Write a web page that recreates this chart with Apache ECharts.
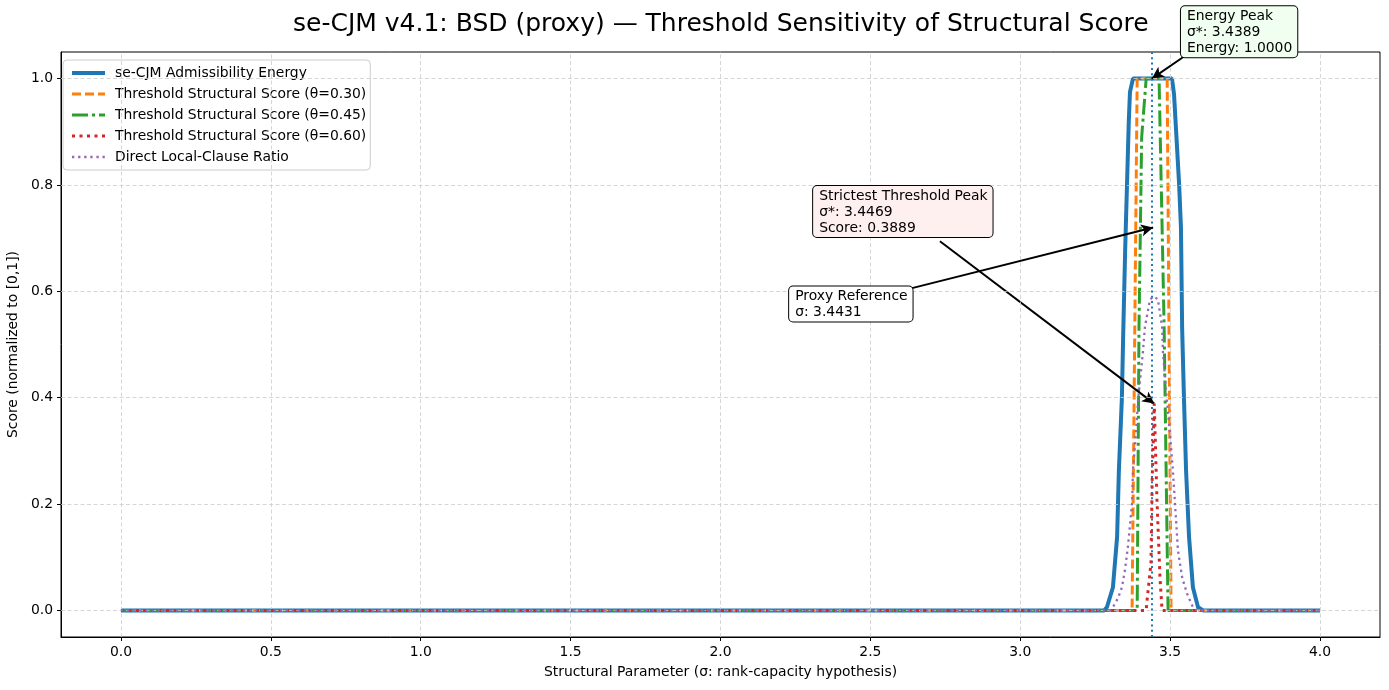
<!DOCTYPE html>
<html>
<head>
<meta charset="utf-8">
<script src="https://cdn.jsdelivr.net/npm/echarts@6/dist/echarts.min.js"></script>
<style>
html,body{margin:0;padding:0;background:#fff;}
#chart{width:1389px;height:690px;}
</style>
</head>
<body>
<div id="chart"></div>
<script>
// ---- data ----
const energySigma = [0.0, 3.280, 3.289, 3.309, 3.323, 3.329, 3.339, 3.343, 3.350, 3.356, 3.362, 3.366, 3.376, 3.506, 3.513, 3.520, 3.530, 3.536, 3.540, 3.546, 3.553, 3.563, 3.576, 3.593, 3.610, 4.0];
const energyScore = [0, 0, 0.006, 0.043, 0.138, 0.264, 0.40, 0.51, 0.68, 0.80, 0.92, 0.975, 1.0, 1.0, 0.97, 0.90, 0.80, 0.72, 0.53, 0.40, 0.264, 0.138, 0.043, 0.006, 0, 0];

const th30Sigma = [0.0, 3.373, 3.390, 3.490, 3.503, 4.0];
const th30Score = [0, 0, 1.0, 1.0, 0, 0];

const th45Sigma = [0.0, 3.390, 3.396, 3.405, 3.420, 3.463, 3.480, 3.493, 4.0];
const th45Score = [0, 0, 0.53, 0.89, 1.0, 1.0, 0.53, 0, 0];

const th60Sigma = [0.0, 3.420, 3.423, 3.436, 3.440, 3.4469, 3.456, 3.466, 3.473, 4.0];
const th60Score = [0, 0, 0.019, 0.089, 0.245, 0.3889, 0.208, 0.062, 0, 0];

const ratioSigma = [0.0, 3.300, 3.309, 3.326, 3.339, 3.349, 3.359, 3.373, 3.376, 3.386, 3.393, 3.409, 3.416, 3.433, 3.446, 3.459, 3.473, 3.476, 3.489, 3.499, 3.509, 3.516, 3.526, 3.540, 3.556, 3.576, 3.590, 4.0];
const ratioScore = [0, 0, 0.006, 0.023, 0.043, 0.075, 0.119, 0.202, 0.264, 0.334, 0.396, 0.485, 0.534, 0.585, 0.59, 0.585, 0.534, 0.485, 0.396, 0.334, 0.264, 0.202, 0.113, 0.062, 0.032, 0.006, 0, 0];

const seriesNames = ['se-CJM Admissibility Energy', 'Threshold Structural Score (θ=0.30)', 'Threshold Structural Score (θ=0.45)', 'Threshold Structural Score (θ=0.60)', 'Direct Local-Clause Ratio'];
const proxySigma = 3.4431;
const xTicks = [0, 0.5, 1.0, 1.5, 2.0, 2.5, 3.0, 3.5, 4.0];
const yTicks = [0, 0.2, 0.4, 0.6, 0.8, 1.0];

const titleText = 'se-CJM v4.1: BSD (proxy) — Threshold Sensitivity of Structural Score';
const xName = 'Structural Parameter (σ: rank-capacity hypothesis)';
const yName = 'Score (normalized to [0,1])';

// annotation texts and their target points (data space)
const annTexts = ['Energy Peak\nσ*: 3.4389\nEnergy: 1.0000', 'Strictest Threshold Peak\nσ*: 3.4469\nScore: 0.3889', 'Proxy Reference\nσ: 3.4431'];
const annTargets = [[3.4389, 1.0], [3.4469, 0.3889], [3.4431, 0.72]];
// layout (positions in data space), kept separate
const annBoxAt = [[3.536, 1.136], [2.309, 0.798], [2.229, 0.609]];
const annArrowFrom = [[3.550, 1.043], [2.732, 0.694], [2.639, 0.606]];
const annBg = ['#f0fff0', '#fff0f0', '#ffffff'];

const zip = (a, b) => a.map((v, i) => [v, b[i]]);
const FONT = 'DejaVu Sans';
const FS = 13.9;

const chart = echarts.init(document.getElementById('chart'), null, {renderer: 'canvas'});

const arrowLines = annTargets.map((t, i) => [
  {coord: annArrowFrom[i], symbol: 'none'},
  {coord: t, symbol: 'arrow', symbolSize: [9, 12], lineStyle: {color: '#000', width: 2, type: 'solid'}}
]);

const styles = [
  {color: '#1f77b4', width: 4, type: 'solid'},
  {color: '#ff7f0e', width: 3, type: [9, 4]},
  {color: '#2ca02c', width: 3, type: [16, 4, 3, 4]},
  {color: '#d62728', width: 3, type: [3, 4.5]},
  {color: '#9467bd', width: 2.3, type: [2.3, 3.8]}
];

function lineSeries(idx, sig, sc, z) {
  const s = styles[idx];
  return {
    name: seriesNames[idx], type: 'line', data: zip(sig, sc), showSymbol: false, symbol: 'none', z: z,
    lineStyle: {color: s.color, width: s.width, type: s.type, cap: 'butt'}, itemStyle: {color: s.color, opacity: 0}
  };
}

const s4 = lineSeries(4, ratioSigma, ratioScore, 6);
s4.markLine = {
  silent: true, animation: false, symbol: ['none', 'none'], label: {show: false},
  data: [
    {xAxis: proxySigma, lineStyle: {color: '#1f77b4', width: 2, type: [2, 3.3]}}
  ].concat(arrowLines)
};

const option = {
  animation: false,
  backgroundColor: '#fff',
  title: {
    text: titleText, left: 288, top: 7,
    textStyle: {fontFamily: FONT, fontSize: 25, fontWeight: 'normal', color: '#000'}
  },
  grid: {left: 61, right: 9, top: 52, bottom: 53, show: true, borderColor: '#000', borderWidth: 1,
    backgroundColor: 'transparent', outerBoundsMode: 'none', containLabel: false},
  legend: {
    data: seriesNames.map((n, i) => ({
      name: n, itemStyle: {opacity: 0},
      lineStyle: {color: styles[i].color, width: styles[i].width, type: styles[i].type, cap: 'butt'}
    })),
    orient: 'vertical', left: 63, top: 60,
    padding: [6, 4, 6, 7], itemGap: 7, itemWidth: 33, itemHeight: 15,
    backgroundColor: 'rgba(255,255,255,0.85)', borderColor: '#cccccc', borderWidth: 1, borderRadius: 4,
    textStyle: {fontFamily: FONT, fontSize: FS, color: '#000', padding: [0, 0, 0, 5]}
  },
  xAxis: {
    type: 'value', min: -0.2, max: 4.2,
    name: xName, nameLocation: 'middle', nameGap: 28,
    nameTextStyle: {fontFamily: FONT, fontSize: FS, color: '#000'},
    axisLine: {show: true, onZero: false, lineStyle: {color: '#000'}},
    axisTick: {show: true, length: 4, lineStyle: {color: '#000'}, customValues: xTicks},
    axisLabel: {fontFamily: FONT, fontSize: FS, color: '#000', margin: 8, customValues: xTicks,
      formatter: v => v.toFixed(1)},
    splitLine: {show: false}
  },
  yAxis: {
    type: 'value', min: -0.05, max: 1.05,
    name: yName, nameLocation: 'middle', nameGap: 35,
    nameTextStyle: {fontFamily: FONT, fontSize: FS, color: '#000'},
    axisLine: {show: true, onZero: false, lineStyle: {color: '#000'}},
    axisTick: {show: true, length: 4, lineStyle: {color: '#000'}, customValues: yTicks},
    axisLabel: {fontFamily: FONT, fontSize: FS, color: '#000', margin: 8, customValues: yTicks,
      formatter: v => v.toFixed(1)},
    splitLine: {show: false}
  },
  series: [
    lineSeries(0, energySigma, energyScore, 2),
    lineSeries(1, th30Sigma, th30Score, 3),
    lineSeries(2, th45Sigma, th45Score, 4),
    lineSeries(3, th60Sigma, th60Score, 5),
    s4,
    // grid lines drawn as a helper series (dashed light grey)
    {name: '_grid', type: 'line', data: [], silent: true, z: 1,
      markLine: {
        silent: true, animation: false, symbol: ['none', 'none'], label: {show: false},
        lineStyle: {color: '#cccccc', width: 0.8, type: [4, 2.5]},
        data: xTicks.map(v => ({xAxis: v})).concat(yTicks.map(v => ({yAxis: v})))
      }
    }
  ]
};
chart.setOption(option);

function drawAnnotations() {
  const g = annTexts.map((t, i) => {
    const p = chart.convertToPixel({gridIndex: 0}, annBoxAt[i]);
    return {
      type: 'text', x: p[0], y: p[1], z: 100,
      style: {
        text: t, fill: '#000', font: FS + 'px "DejaVu Sans"', lineHeight: 16,
        backgroundColor: annBg[i], borderColor: '#000', borderWidth: 1, borderRadius: 4,
        padding: [2, 5, 1, 6], textAlign: 'left', textVerticalAlign: 'top'
      }
    };
  });
  chart.setOption({graphic: g});
}
drawAnnotations();
</script>
</body>
</html>
